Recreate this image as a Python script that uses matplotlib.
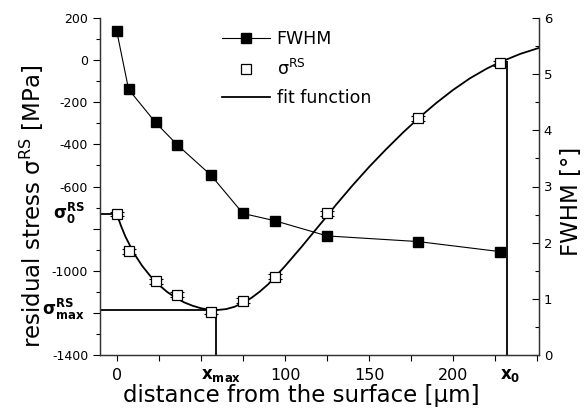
import matplotlib
matplotlib.use("Agg")
import matplotlib.pyplot as plt
import numpy as np

plt.rcParams['font.family'] = ['DejaVu Sans']
plt.rcParams['mathtext.fontset'] = 'dejavusans'
plt.rcParams['axes.unicode_minus'] = False

depth = [0, 7, 23, 36, 56, 75, 94, 125, 179, 228]
fwhm = [5.76, 4.73, 4.14, 3.74, 3.20, 2.52, 2.39, 2.12, 2.02, 1.84]
sigma_rs = [-731, -907, -1049, -1115, -1194, -1142, -1028, -727, -276, -15]
sigma_err = [10, 12, 12, 12, 12, 12, 12, 12, 12, 12]

# fit curve, points
fit_x = [0, 2.5, 5, 10, 15, 20, 25, 30, 35, 40, 45, 50, 55, 59, 65, 70, 75, 80,
         85, 90, 94, 100, 110, 120, 125, 130, 140, 150, 160, 170, 180, 190,
         200, 210, 220, 228, 240, 251]
fit_y = [-731, -787, -836, -915, -976, -1026, -1067, -1101, -1128, -1150,
         -1166, -1178, -1185, -1187, -1182, -1171, -1152, -1129, -1099, -1064,
         -1030, -978, -885, -788, -740, -690, -596, -507, -424, -345, -271,
         -203, -141, -86, -40, -9, 30, 58]

sigma_0 = -731
sigma_max = -1187
x_max = 58.8
x_0 = 232

xticks = [0, 25, 50, 75, 100, 125, 150, 175, 200, 225, 250]
xticklabels = ['0', '', '', '', '100', '', '150', '', '200', '', '']
yticks = [-1400, -1200, -1000, -800, -600, -400, -200, 0, 200]
yticklabels = ['-1400', '', '-1000', '', '-600', '-400', '-200', '0', '200']

fig = plt.figure(figsize=(5.84, 4.12), dpi=100)
ax = fig.add_axes([100/584, 1-355/412, 439/584, 337/412])
ax2 = ax.twinx()

# fit + helper lines
l_fit, = ax.plot(fit_x, fit_y, color='black', lw=1.3)
ax.plot([-10, 0], [sigma_0, sigma_0], color='black', lw=1.3)
ax.plot([-10, x_max], [sigma_max, sigma_max], color='black', lw=1.3)
ax.plot([x_max, x_max], [-1400, sigma_max], color='black', lw=1.3)
ax.plot([x_0, x_0], [-1400, -8], color='black', lw=1.3)

# sigma points with small error bars
ax.errorbar(depth, sigma_rs, yerr=sigma_err, fmt='none', ecolor='black',
            elinewidth=0.8, capsize=5, capthick=0.8, zorder=3)
l_sig, = ax.plot(depth, sigma_rs, ls='none', marker='s', ms=7.5, mfc='white',
                 mec='black', mew=0.9, zorder=4)

# FWHM on right axis
l_fw, = ax2.plot(depth, fwhm, color='black', lw=0.8, marker='s', ms=7,
                 mfc='black', mec='black')

ax.set_xlim(-10, 251)
ax.set_ylim(-1400, 200)
ax2.set_ylim(0, 6)

ax.set_xticks(xticks)
ax.set_xticklabels(xticklabels, fontsize=11.5)
ax.set_yticks(yticks)
ax.set_yticklabels(yticklabels, fontsize=9)
ax.set_yticks(np.arange(-1400, 201, 100), minor=True)
ax.tick_params(axis='y', which='major', direction='out', length=5, width=0.8)
ax.tick_params(axis='y', which='minor', direction='out', length=3, width=0.8)
ax.tick_params(axis='x', which='major', direction='out', length=4, width=0.8, pad=5)

ax2.set_yticks(np.arange(0, 7, 1))
ax2.set_yticks(np.arange(0, 6.1, 0.5), minor=True)
ax2.tick_params(axis='y', which='major', direction='in', length=5, labelsize=9.5, width=0.8)
ax2.tick_params(axis='y', which='minor', direction='in', length=3, width=0.8)

for a in (ax, ax2):
    a.spines['top'].set_visible(False)
    for s in ('left', 'right', 'bottom'):
        a.spines[s].set_linewidth(0.9)
        a.spines[s].set_color('#333333')

ax.set_ylabel(r'residual stress σ$^{\mathrm{RS}}$ [MPa]', fontsize=16.5)
ax.yaxis.set_label_coords(-0.122, 0.44)
ax.set_xlabel('distance from the surface [µm]', fontsize=16.5)
ax.xaxis.set_label_coords(0.458, -0.085)
ax2.set_ylabel('FWHM [°]', fontsize=16.5)
ax2.yaxis.set_label_coords(1.048, 0.455)

# annotations on the axes
ax.text(x_max + 3, -1452, r'$\mathbf{x_{max}}$', ha='center', va='top', fontsize=12, clip_on=False)
ax.text(x_0 + 2, -1452, r'$\mathbf{x_0}$', ha='center', va='top', fontsize=12, clip_on=False)
ax.text(-19, sigma_0 + 5, r'$\mathbf{σ_0^{RS}}$', ha='right', va='center', fontsize=12, clip_on=False)
ax.text(-19, sigma_max + 5, r'$\mathbf{σ_{max}^{RS}}$', ha='right', va='center', fontsize=12, clip_on=False)

ax.legend([l_fw, l_sig, l_fit], ['FWHM', 'σ$^{\mathrm{RS}}$', 'fit function'],
          loc='upper left', bbox_to_anchor=(0.278, 0.963), frameon=False,
          fontsize=12.5, handlelength=2.75, numpoints=1, labelspacing=0.6,
          handletextpad=0.4, borderpad=0, borderaxespad=0)

fig.savefig('out.png', dpi=100)
